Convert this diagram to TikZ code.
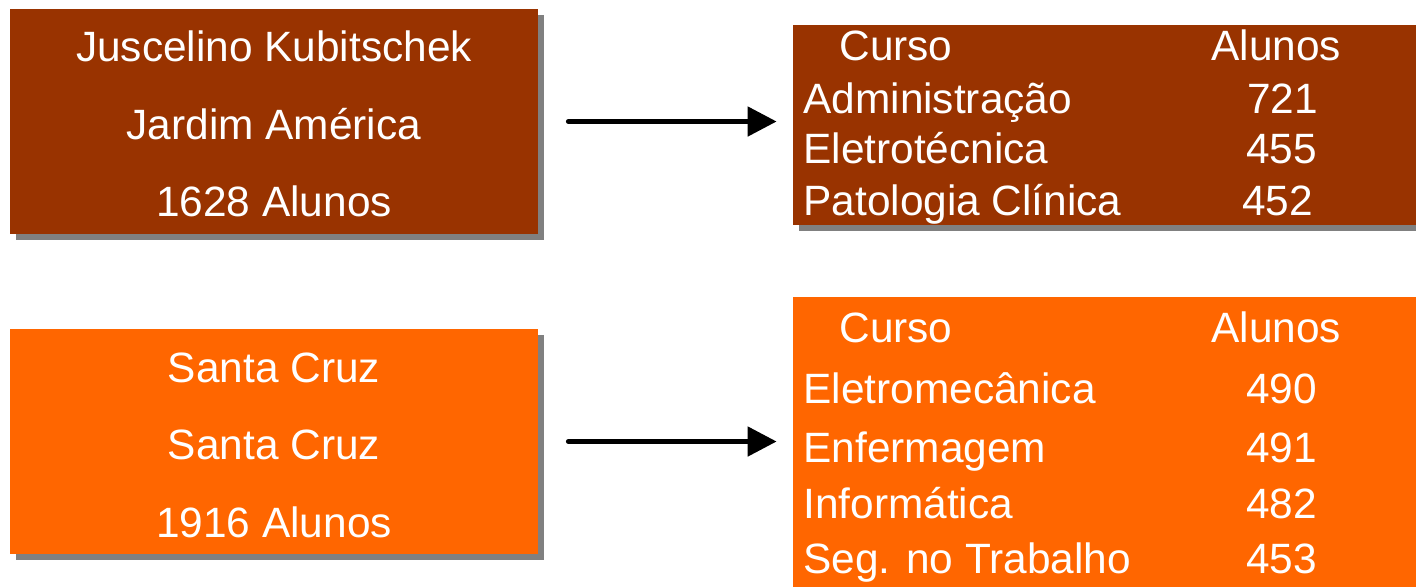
\documentclass[tikz,border=0pt]{standalone}
\usepackage{fontspec}
\setmainfont{Liberation Sans}
\usetikzlibrary{shadows,arrows.meta}
\definecolor{tijolo}{HTML}{993300}
\definecolor{laranja}{HTML}{FF6600}
\definecolor{sombra}{HTML}{808080}
\begin{document}
\begin{tikzpicture}
[x=0.5pt,y=-0.5pt,
caixa/.style={rectangle,draw=none,inner sep=0pt,drop shadow={shadow xshift=3pt,shadow yshift=-3pt,fill=sombra,opacity=1}},
texto/.style={text=white,inner sep=0pt,font=\fontsize{21.2}{24}\selectfont},
seta/.style={line width=2.5pt,line cap=round,-{Triangle[length=14.5pt,width=14.5pt]},shorten <=15pt,shorten >=8pt}]
\useasboundingbox (0,0) rectangle (1416,586);

\node (jk) at (274,121.5) [caixa,fill=tijolo,minimum width=264pt,minimum height=112.5pt] {};
\node (jk1) at (274,61) [texto,anchor=base] {Juscelino Kubitschek};
\node (jk2) at (274,139) [texto,anchor=base] {Jardim América};
\node (jk3) at (274,216) [texto,anchor=base] {1628 Alunos};

\node (sc) at (274,441.5) [caixa,fill=laranja,minimum width=264pt,minimum height=112.5pt] {};
\node (sc1) at (274,382) [texto,anchor=base] {Santa Cruz};
\node (sc2) at (274,459) [texto,anchor=base] {Santa Cruz};
\node (sc3) at (274,537) [texto,anchor=base] {1916 Alunos};

\node (tabA) at (1123,125) [caixa,fill=tijolo,minimum width=330pt,minimum height=100pt] {};
\node (cursoA) at (839,60) [texto,anchor=base west] {Curso};
\node (alunosA) at (1211,60) [texto,anchor=base west] {Alunos};
\node (adm) at (803,113) [texto,anchor=base west] {Administração};
\node (adm n) at (1247,113) [texto,anchor=base west] {721};
\node (ele) at (803,163) [texto,anchor=base west] {Eletrotécnica};
\node (ele n) at (1246,163) [texto,anchor=base west] {455};
\node (pat) at (803,215) [texto,anchor=base west] {Patologia Clínica};
\node (pat n) at (1242,215) [texto,anchor=base west] {452};

\node (tabB) at (1123,458.5) [caixa,fill=laranja,minimum width=330pt,minimum height=161.5pt] {};
\node (cursoB) at (839,342) [texto,anchor=base west] {Curso};
\node (alunosB) at (1211,342) [texto,anchor=base west] {Alunos};
\node (elm) at (803,403) [texto,anchor=base west] {Eletromecânica};
\node (elm n) at (1246,403) [texto,anchor=base west] {490};
\node (enf) at (803,462) [texto,anchor=base west] {Enfermagem};
\node (enf n) at (1246,462) [texto,anchor=base west] {491};
\node (inf) at (803,518) [texto,anchor=base west] {Informática};
\node (inf n) at (1246,518) [texto,anchor=base west] {482};
\node (seg) at (803,573) [texto,anchor=base west] {Seg. no Trabalho};
\node (seg n) at (1246,573) [texto,anchor=base west] {453};

\draw[seta] (jk.east) -- (jk.east -| tabA.west);
\draw[seta] (sc.east) -- (sc.east -| tabB.west);

\end{tikzpicture}
\end{document}
